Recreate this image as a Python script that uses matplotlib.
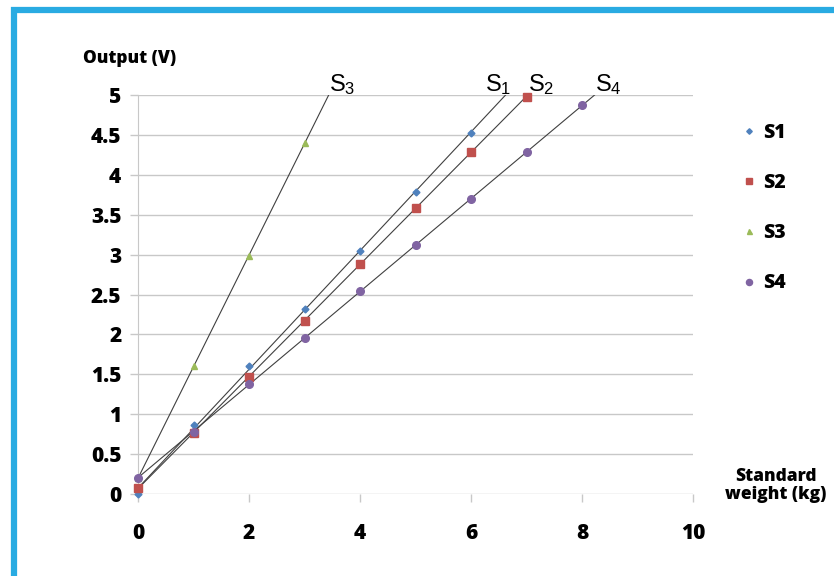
import numpy as np
import matplotlib.pyplot as plt
from matplotlib.patches import Rectangle

# values
weights_s1 = [0, 1, 2, 3, 4, 5, 6]
output_s1 = [0.0, 0.87, 1.6, 2.32, 3.05, 3.78, 4.52]
weights_s2 = [0, 1, 2, 3, 4, 5, 6, 7]
output_s2 = [0.07, 0.77, 1.47, 2.17, 2.88, 3.58, 4.29, 4.98]
weights_s3 = [0, 1, 2, 3]
output_s3 = [0.2, 1.6, 2.98, 4.4]
weights_s4 = [0, 1, 2, 3, 4, 5, 6, 7, 8]
output_s4 = [0.2, 0.78, 1.38, 1.96, 2.54, 3.12, 3.7, 4.28, 4.87]

series = [
    ('S1', weights_s1, output_s1, '#4F81BD', 'D', 3.5, 'right'),
    ('S2', weights_s2, output_s2, '#C0504D', 's', 5.5, 'left'),
    ('S3', weights_s3, output_s3, '#9BBB59', '^', 4.5, 'left'),
    ('S4', weights_s4, output_s4, '#8064A2', 'o', 5.5, 'left'),
]

bold = {'family': 'Open Sans', 'weight': 'heavy'}

fig = plt.figure(figsize=(8.34, 5.76), dpi=100)
fig.patch.set_facecolor('white')

# cyan frame (only left/top edges visible in the image)
fig.patches.append(Rectangle((0.0165, -0.05), 1.2, 1.032, transform=fig.transFigure,
                             fill=False, edgecolor='#29ABE2', linewidth=4.5))

ax = fig.add_axes([0.1655, 0.1424, 0.6655, 0.6926])
ax.set_xlim(0, 10)
ax.set_ylim(0, 5)
ax.set_xticks(np.arange(0, 11, 2))
ax.set_yticks(np.arange(0, 5.01, 0.5))
ax.set_yticklabels(['0', '0.5', '1', '1.5', '2', '2.5', '3', '3.5', '4', '4.5', '5'])
ax.grid(axis='y', color='#C8C8C8', linewidth=1)
ax.set_axisbelow(True)
for s in ['top', 'right', 'bottom']:
    ax.spines[s].set_visible(False)
ax.spines['left'].set_color('#C8C8C8')
ax.tick_params(axis='both', color='#C8C8C8', length=6, width=1, direction='out',
               labelsize=15, labelcolor='black')
ax.tick_params(axis='x', pad=15)
ax.tick_params(axis='y', pad=6)
for lab in ax.get_xticklabels() + ax.get_yticklabels():
    lab.set_fontfamily(bold['family'])
    lab.set_fontweight(bold['weight'])

handles = []
for name, xs, ys, col, mk, ms, ha in series:
    # linear trendline, extended to the top of the plot
    m, b = np.polyfit(xs, ys, 1)
    x_end = (5 - b) / m
    ax.plot([0, x_end], [b, 5], color='#404040', linewidth=0.8, zorder=2)
    h, = ax.plot(xs, ys, linestyle='none', marker=mk, markersize=ms, color=col,
                 markeredgecolor=col, zorder=3, label=name, clip_on=False)
    handles.append(h)
    ax.text(x_end + (0.1 if ha == 'right' else 0), 4.98, r'$\mathregular{S_%s}$' % name[1],
            ha=ha, va='bottom', fontsize=17, family='Liberation Sans', clip_on=False)

fig.text(0.1, 0.898, 'Output (V)', fontsize=12.5, ha='left', va='center', **bold)
fig.text(0.93, 0.157, 'Standard\nweight (kg)', fontsize=12.5, ha='center', va='center',
         linespacing=1.1, **bold)

leg = fig.legend(handles=handles, loc='upper left', bbox_to_anchor=(0.866, 0.817),
                 frameon=False, labelspacing=1.55, handletextpad=0.2, handlelength=1.0,
                 prop={'family': bold['family'], 'weight': bold['weight'], 'size': 14},
                 markerscale=0.8)

fig.savefig('out.png', dpi=100)
